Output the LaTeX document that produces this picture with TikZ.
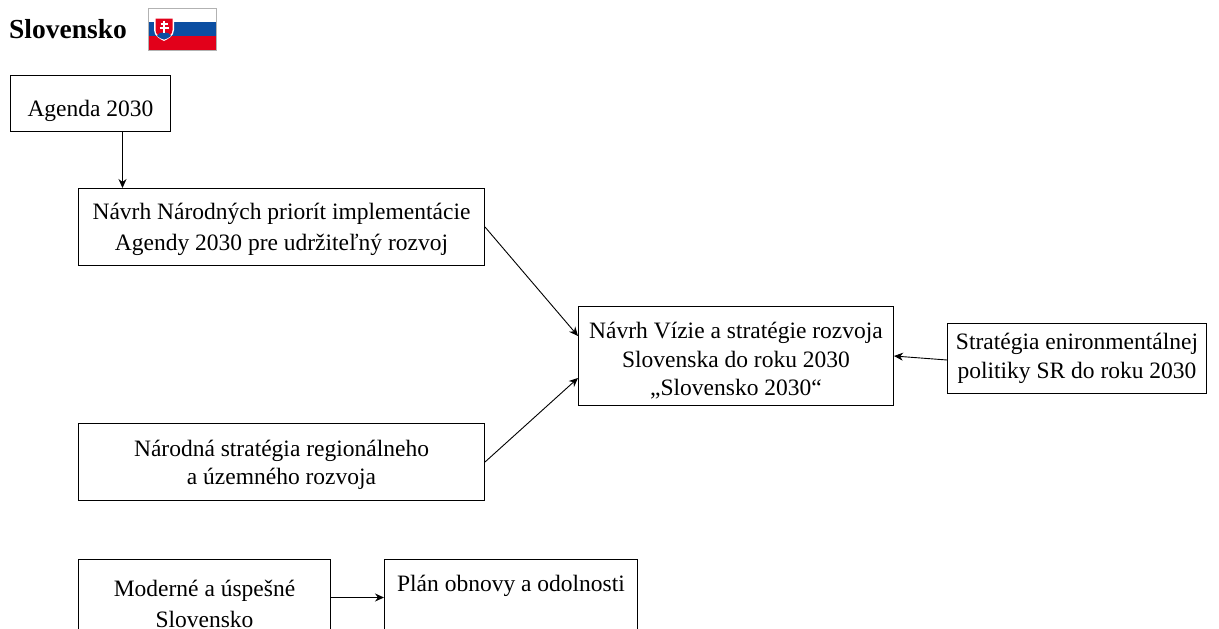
\documentclass[tikz,border=0pt]{standalone}
\usepackage{fontspec}
\setmainfont{Liberation Serif}
\usetikzlibrary{arrows.meta}
\definecolor{skblue}{HTML}{0B4EA2}
\definecolor{skred}{HTML}{E2001A}
\newcommand{\dnstrut}[1]{\rule{0pt}{#1pt}}
\tikzset{
  px/.style={x=1pt,y=-1pt},
  boxn/.style={draw=black,line width=1pt,fill=white,inner sep=0pt,align=center,font=\fontsize{23.5}{28.5}\selectfont,anchor=north west},
  conn/.style={draw=black,line width=0.9pt,-{Stealth[length=9pt,width=8pt]}}
}
\begin{document}
\begin{tikzpicture}[px]
\useasboundingbox (0,0) rectangle (1219,629);
\clip (0,0) rectangle (1219,629);
\fill[white] (0,0) rectangle (1219,629);
\node[anchor=west,inner sep=0pt,font=\fontsize{27.5}{30}\selectfont\bfseries] (title) at (9,29) {Slovensko};
% flag
\fill[white] (148,8) rectangle (216,22);
\fill[skblue] (148,22) rectangle (216,36);
\fill[skred] (148,36) rectangle (216,50);
\draw[gray!60,line width=0.7pt] (148,8) rectangle (216,50);
\fill[white] (154,17) -- (174,17) -- (174,30) .. controls (174,36) and (168,39) .. (164,41) .. controls (160,39) and (154,36) .. (154,30) -- cycle;
\fill[skred] (155.5,18.5) -- (172.5,18.5) -- (172.5,30) .. controls (172.5,35) and (167,38) .. (164,39.5) .. controls (161,38) and (155.5,35) .. (155.5,30) -- cycle;
\fill[skblue] (157,36) .. controls (159,31) and (169,31) .. (171,36) .. controls (169,38) and (166,39) .. (164,39.5) .. controls (162,39) and (159,38) .. (157,36) -- cycle;
\draw[white,line width=1.3pt] (164,20.5) -- (164,33) (160.5,24) -- (167.5,24) (159.5,28) -- (168.5,28);
% boxes
\node[boxn,minimum width=160pt,minimum height=56pt] (agenda) at (10,75) {\dnstrut{32}Agenda 2030};
\node[boxn,minimum width=406pt,minimum height=77pt,font=\fontsize{23.5}{31}\selectfont] (narod) at (78,188) {\dnstrut{22}Návrh Národných priorít implementácie\\Agendy 2030 pre udržiteľný rozvoj};
\node[boxn,minimum width=315pt,minimum height=99pt] (vizia) at (578,306) {\dnstrut{26}Návrh Vízie a stratégie rozvoja\\Slovenska do roku 2030\\„Slovensko 2030“};
\node[boxn,minimum width=259pt,minimum height=70pt] (enviro) at (947,323) {Stratégia enironmentálnej\\politiky SR do roku 2030};
\node[boxn,minimum width=406pt,minimum height=77pt] (region) at (78,423) {\dnstrut{22}Národná stratégia regionálneho\\a územného rozvoja};
\node[boxn,minimum width=252pt,minimum height=88pt,font=\fontsize{23.5}{31}\selectfont] (modern) at (78,559) {Moderné a úspešné\\Slovensko};
\node[boxn,minimum width=253pt,minimum height=88pt] (plan) at (384,559) {Plán obnovy a odolnosti\\[12pt]};
% connectors
\draw[conn] ([xshift=32pt]agenda.south) -- ([xshift=-159pt]narod.north);
\draw[conn] (narod.east) -- ([yshift=20pt]vizia.west);
\draw[conn] (region.east) -- ([yshift=-22pt]vizia.west);
\draw[conn] ([yshift=-4pt]enviro.west |- vizia.east) -- (vizia.east);
\draw[conn] ([yshift=6pt]modern.east) -- ([yshift=6pt]plan.west);
\end{tikzpicture}
\end{document}
